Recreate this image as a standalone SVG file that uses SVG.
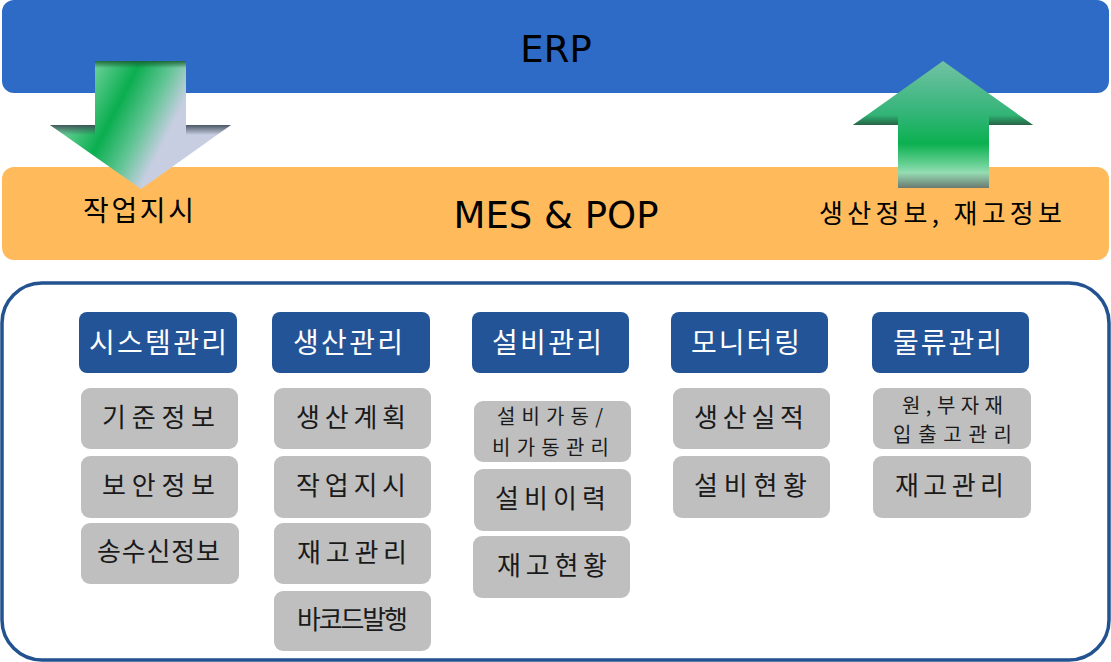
<svg xmlns="http://www.w3.org/2000/svg" width="1111" height="662" viewBox="0 0 1111 662">
<defs>
<style>
.hdr{fill:#235497}
.htx{fill:#ffffff;font-family:"Noto Sans CJK KR","Noto Sans",sans-serif;font-size:28px;text-anchor:middle}
.box{fill:#bfbfbf}
.btx{fill:#1a1a1a;font-family:"Noto Sans CJK KR","Noto Sans",sans-serif;font-size:26px;text-anchor:middle}
.sm{font-size:20px}
.lbl{fill:#000;font-family:"Noto Sans CJK KR","Noto Sans",sans-serif;text-anchor:middle}
.big{fill:#000;font-family:"DejaVu Sans","Noto Sans",sans-serif;font-size:37px;text-anchor:middle}
</style>
<linearGradient id="gDown" gradientUnits="userSpaceOnUse" x1="80" y1="70" x2="200" y2="131">
<stop offset="0" stop-color="#86d9ae"/>
<stop offset="0.37" stop-color="#0aae4f"/>
<stop offset="0.6" stop-color="#63c596"/>
<stop offset="0.8" stop-color="#c7cee2"/>
<stop offset="1" stop-color="#c7cee2"/>
</linearGradient>
<linearGradient id="gUp" gradientUnits="userSpaceOnUse" x1="0" y1="61" x2="0" y2="188">
<stop offset="0" stop-color="#72c2a4"/>
<stop offset="0.4" stop-color="#35b57a"/>
<stop offset="0.65" stop-color="#0bb050"/>
<stop offset="0.8" stop-color="#5fce8e"/>
<stop offset="0.88" stop-color="#95ddb3"/>
<stop offset="1" stop-color="#6a7a70"/>
</linearGradient>
<linearGradient id="shTop" x1="0" y1="0" x2="0" y2="1">
<stop offset="0" stop-color="#1b5e33" stop-opacity="0.9"/>
<stop offset="1" stop-color="#1b5e33" stop-opacity="0"/>
</linearGradient>
<linearGradient id="shDark" x1="0" y1="0" x2="0" y2="1">
<stop offset="0" stop-color="#3d4a55" stop-opacity="0.9"/>
<stop offset="1" stop-color="#3d4a55" stop-opacity="0"/>
</linearGradient>
<linearGradient id="shUp" x1="0" y1="0" x2="0" y2="1">
<stop offset="0" stop-color="#2b5a45" stop-opacity="0"/>
<stop offset="1" stop-color="#2b5a45" stop-opacity="0.9"/>
</linearGradient>
<clipPath id="cDown"><polygon points="95,61 186,61 186,125 231,125 141,189 50,125 95,125"/></clipPath>
<clipPath id="cUp"><polygon points="943,61 1033,125 989,125 989,188 898,188 898,125 853,125"/></clipPath>
</defs>

<g id="erp">
<rect x="2" y="0" width="1107" height="93" rx="12" fill="#2e6bc6"/>
<text class="big" x="556" y="62">ERP</text>
</g>

<g id="mes">
<rect x="2" y="167" width="1107" height="93" rx="12" fill="#ffbb5b"/>
<text class="big" x="556" y="228">MES &amp; POP</text>
<text class="lbl" x="138.5" y="221" font-size="28" textLength="111" lengthAdjust="spacing">작업지시</text>
<text class="lbl" x="940.5" y="223" font-size="26" textLength="243" lengthAdjust="spacing">생산정보, 재고정보</text>
</g>

<g id="arrow-down">
<polygon points="95,61 186,61 186,125 231,125 141,189 50,125 95,125" fill="url(#gDown)"/>
<g clip-path="url(#cDown)">
<rect x="95" y="61" width="91" height="7" fill="url(#shTop)"/>
<rect x="40" y="125" width="55" height="10" fill="url(#shDark)"/>
<rect x="186" y="125" width="50" height="10" fill="url(#shDark)"/>
</g>
</g>

<g id="arrow-up">
<polygon points="943,61 1033,125 989,125 989,188 898,188 898,125 853,125" fill="url(#gUp)"/>
<g clip-path="url(#cUp)">
<rect x="845" y="115" width="53" height="10" fill="url(#shUp)"/>
<rect x="989" y="115" width="50" height="10" fill="url(#shUp)"/>
</g>
</g>

<g id="modules">
<rect x="2" y="283" width="1107" height="377" rx="40" fill="#ffffff" stroke="#22528f" stroke-width="3.5"/>
</g>

<g id="col-system">
<rect class="hdr" x="79" y="312" width="158" height="61" rx="8"/>
<text class="htx" x="158" y="353" textLength="138" lengthAdjust="spacing">시스템관리</text>
<rect class="box" x="81" y="388" width="157" height="61" rx="9"/>
<text class="btx" x="158.5" y="427" textLength="113" lengthAdjust="spacing">기준정보</text>
<rect class="box" x="81" y="456" width="157" height="62" rx="9"/>
<text class="btx" x="158.5" y="495" textLength="113" lengthAdjust="spacing">보안정보</text>
<rect class="box" x="81" y="523" width="158" height="61" rx="9"/>
<text class="btx" x="158.5" y="561" font-size="23" textLength="123" lengthAdjust="spacing">송수신정보</text>
</g>

<g id="col-production">
<rect class="hdr" x="272" y="312" width="158" height="61" rx="8"/>
<text class="htx" x="348" y="353" textLength="110" lengthAdjust="spacing">생산관리</text>
<rect class="box" x="274" y="388" width="157" height="61" rx="9"/>
<text class="btx" x="351" y="427" textLength="110" lengthAdjust="spacing">생산계획</text>
<rect class="box" x="274" y="456" width="157" height="62" rx="9"/>
<text class="btx" x="351" y="495" textLength="110" lengthAdjust="spacing">작업지시</text>
<rect class="box" x="274" y="523" width="157" height="61" rx="9"/>
<text class="btx" x="352" y="562" textLength="110" lengthAdjust="spacing">재고관리</text>
<rect class="box" x="274" y="591" width="157" height="60" rx="9"/>
<text class="btx" x="352.5" y="629" font-size="21" textLength="111" lengthAdjust="spacing">바코드발행</text>
</g>

<g id="col-equipment">
<rect class="hdr" x="472" y="312" width="157" height="61" rx="8"/>
<text class="htx" x="547" y="353" textLength="110" lengthAdjust="spacing">설비관리</text>
<rect class="box" x="474" y="401" width="157" height="61" rx="9"/>
<text class="btx sm" x="550" y="424" textLength="106" lengthAdjust="spacing">설비가동/</text>
<text class="btx sm" x="550.5" y="455" textLength="117" lengthAdjust="spacing">비가동관리</text>
<rect class="box" x="474" y="469" width="157" height="62" rx="9"/>
<text class="btx" x="550.5" y="508" textLength="111" lengthAdjust="spacing">설비이력</text>
<rect class="box" x="473" y="536" width="157" height="62" rx="9"/>
<text class="btx" x="552" y="575" textLength="110" lengthAdjust="spacing">재고현황</text>
</g>

<g id="col-monitoring">
<rect class="hdr" x="671" y="312" width="157" height="61" rx="8"/>
<text class="htx" x="745.5" y="353" textLength="109" lengthAdjust="spacing">모니터링</text>
<rect class="box" x="673" y="388" width="157" height="61" rx="9"/>
<text class="btx" x="749" y="427" textLength="110" lengthAdjust="spacing">생산실적</text>
<rect class="box" x="673" y="456" width="157" height="62" rx="9"/>
<text class="btx" x="750.5" y="495" textLength="113" lengthAdjust="spacing">설비현황</text>
</g>

<g id="col-logistics">
<rect class="hdr" x="872" y="312" width="157" height="61" rx="8"/>
<text class="htx" x="947.5" y="353" textLength="109" lengthAdjust="spacing">물류관리</text>
<rect class="box" x="873" y="388" width="158" height="61" rx="9"/>
<text class="btx sm" x="952.5" y="413" textLength="101" lengthAdjust="spacing">원,부자재</text>
<text class="btx sm" x="952.5" y="442" textLength="119" lengthAdjust="spacing">입출고관리</text>
<rect class="box" x="873" y="456" width="158" height="62" rx="9"/>
<text class="btx" x="949.5" y="495" textLength="109" lengthAdjust="spacing">재고관리</text>
</g>
</svg>
